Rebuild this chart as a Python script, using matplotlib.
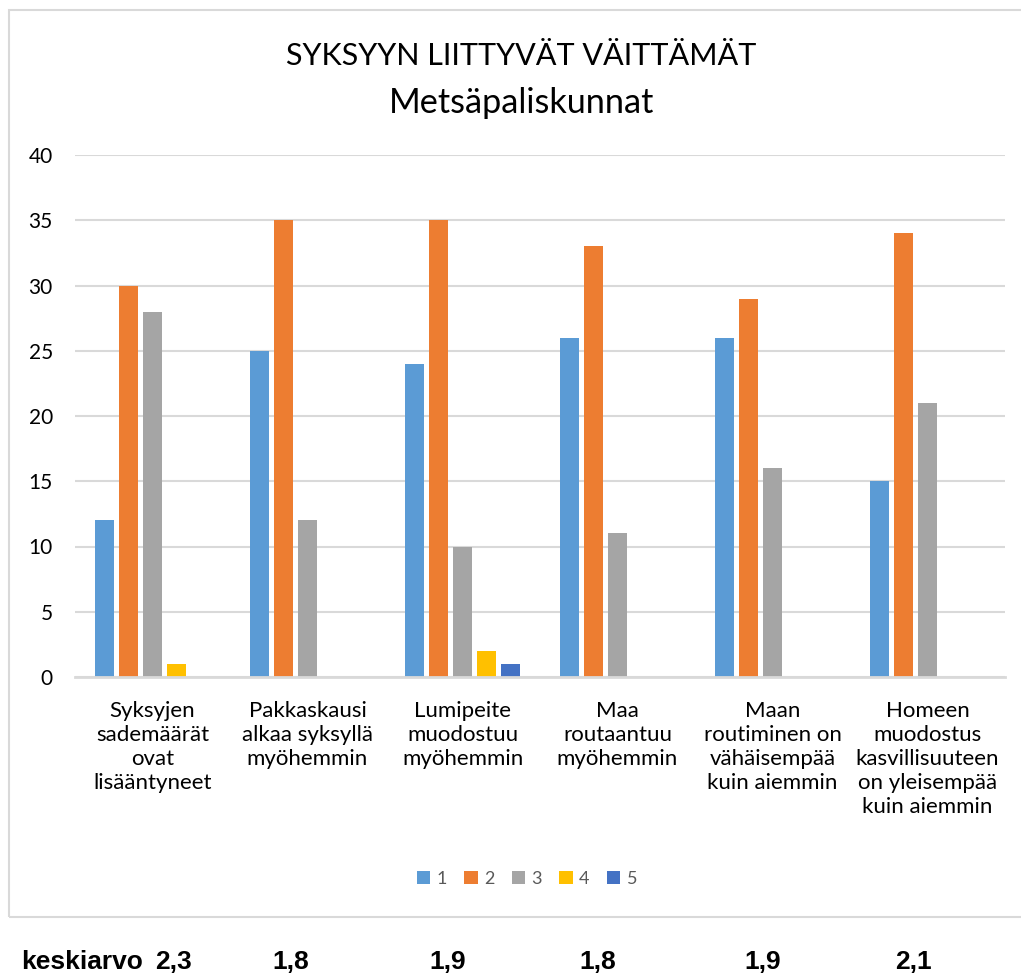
import matplotlib
matplotlib.use("Agg")
import matplotlib.pyplot as plt
from matplotlib.patches import Rectangle
import numpy as np

categories = ["Syksyjen\nsademäärät\novat\nlisääntyneet",
              "Pakkaskausi\nalkaa syksyllä\nmyöhemmin",
              "Lumipeite\nmuodostuu\nmyöhemmin",
              "Maa\nroutaantuu\nmyöhemmin",
              "Maan\nroutiminen on\nvähäisempää\nkuin aiemmin",
              "Homeen\nmuodostus\nkasvillisuuteen\non yleisempää\nkuin aiemmin"]
series_names = ["1", "2", "3", "4", "5"]
s1 = [12, 25, 24, 26, 26, 15]
s2 = [30, 35, 35, 33, 29, 34]
s3 = [28, 12, 10, 11, 16, 21]
s4 = [1, 0, 2, 0, 0, 0]
s5 = [0, 0, 1, 0, 0, 0]
series = [s1, s2, s3, s4, s5]
colors = ["#5b9bd5", "#ed7d31", "#a5a5a5", "#ffc000", "#4472c4"]
means_label = "keskiarvo"
means = ["2,3", "1,8", "1,9", "1,8", "1,9", "2,1"]
yticks = [0, 5, 10, 15, 20, 25, 30, 35, 40]

W, H = 1021, 976
fig = plt.figure(figsize=(W/100, H/100), dpi=100)
fam = ["Lato", "DejaVu Sans"]

# chart border
fig.patches.append(Rectangle((9/W, 1-917/H), (1040-9)/W, (917-10)/H,
                             transform=fig.transFigure, fill=False,
                             edgecolor="#d9d9d9", lw=1.5))

ax = fig.add_axes([75/W, 1-677/H, 930/W, (677-155)/H])
x = np.arange(len(categories))
slot = 0.155
bw = 0.125
for j, (vals, c, name) in enumerate(zip(series, colors, series_names)):
    ax.bar(x + (j-2)*slot, vals, width=bw, color=c, label=name, zorder=3)

ax.set_xlim(-0.5, len(categories)-0.5)
ax.set_ylim(0, 40)
ax.set_yticks(yticks)
ax.set_yticklabels([str(v) for v in yticks], family=fam, fontsize=15, color="#000000")
ax.yaxis.grid(True, color="#d9d9d9", lw=1.5, zorder=0)
ax.tick_params(axis="y", length=0, pad=16)
ax.tick_params(axis="x", length=0, pad=17)
ax.set_xticks(x)
ax.set_xticklabels(categories, family=fam, fontsize=16, linespacing=1.26)
for s in ["top", "right", "left"]:
    ax.spines[s].set_visible(False)
ax.spines["bottom"].set_color("#d9d9d9")
ax.spines["bottom"].set_linewidth(2)
ax.spines["bottom"].set_zorder(4)

fig.text(521/W, 1-65/H, "SYKSYYN LIITTYVÄT VÄITTÄMÄT", ha="center", va="baseline",
         family=fam, fontsize=22)
fig.text(522/W, 1-113/H, "Metsäpaliskunnat", ha="center", va="baseline",
         family=fam, fontsize=24.7)

leg = fig.legend(loc="center", bbox_to_anchor=(527/W, 1-879/H), ncol=5,
                 frameon=False, handlelength=0.75, handleheight=0.75,
                 handletextpad=0.35, columnspacing=0.95,
                 prop={"family": fam, "size": 13})
for t in leg.get_texts():
    t.set_color("#595959")

bold_fam = ["Liberation Sans", "DejaVu Sans"]
fig.text(21/W, 1-962/H, means_label, ha="left", va="center", family=bold_fam,
         fontweight="bold", fontsize=19)
mean_x = [174, 291, 448, 598, 763, 913]
for mx, m in zip(mean_x, means):
    fig.text(mx/W, 1-962/H, m, ha="center", va="center", family=bold_fam,
             fontweight="bold", fontsize=19)

fig.savefig("out.png", dpi=100)
